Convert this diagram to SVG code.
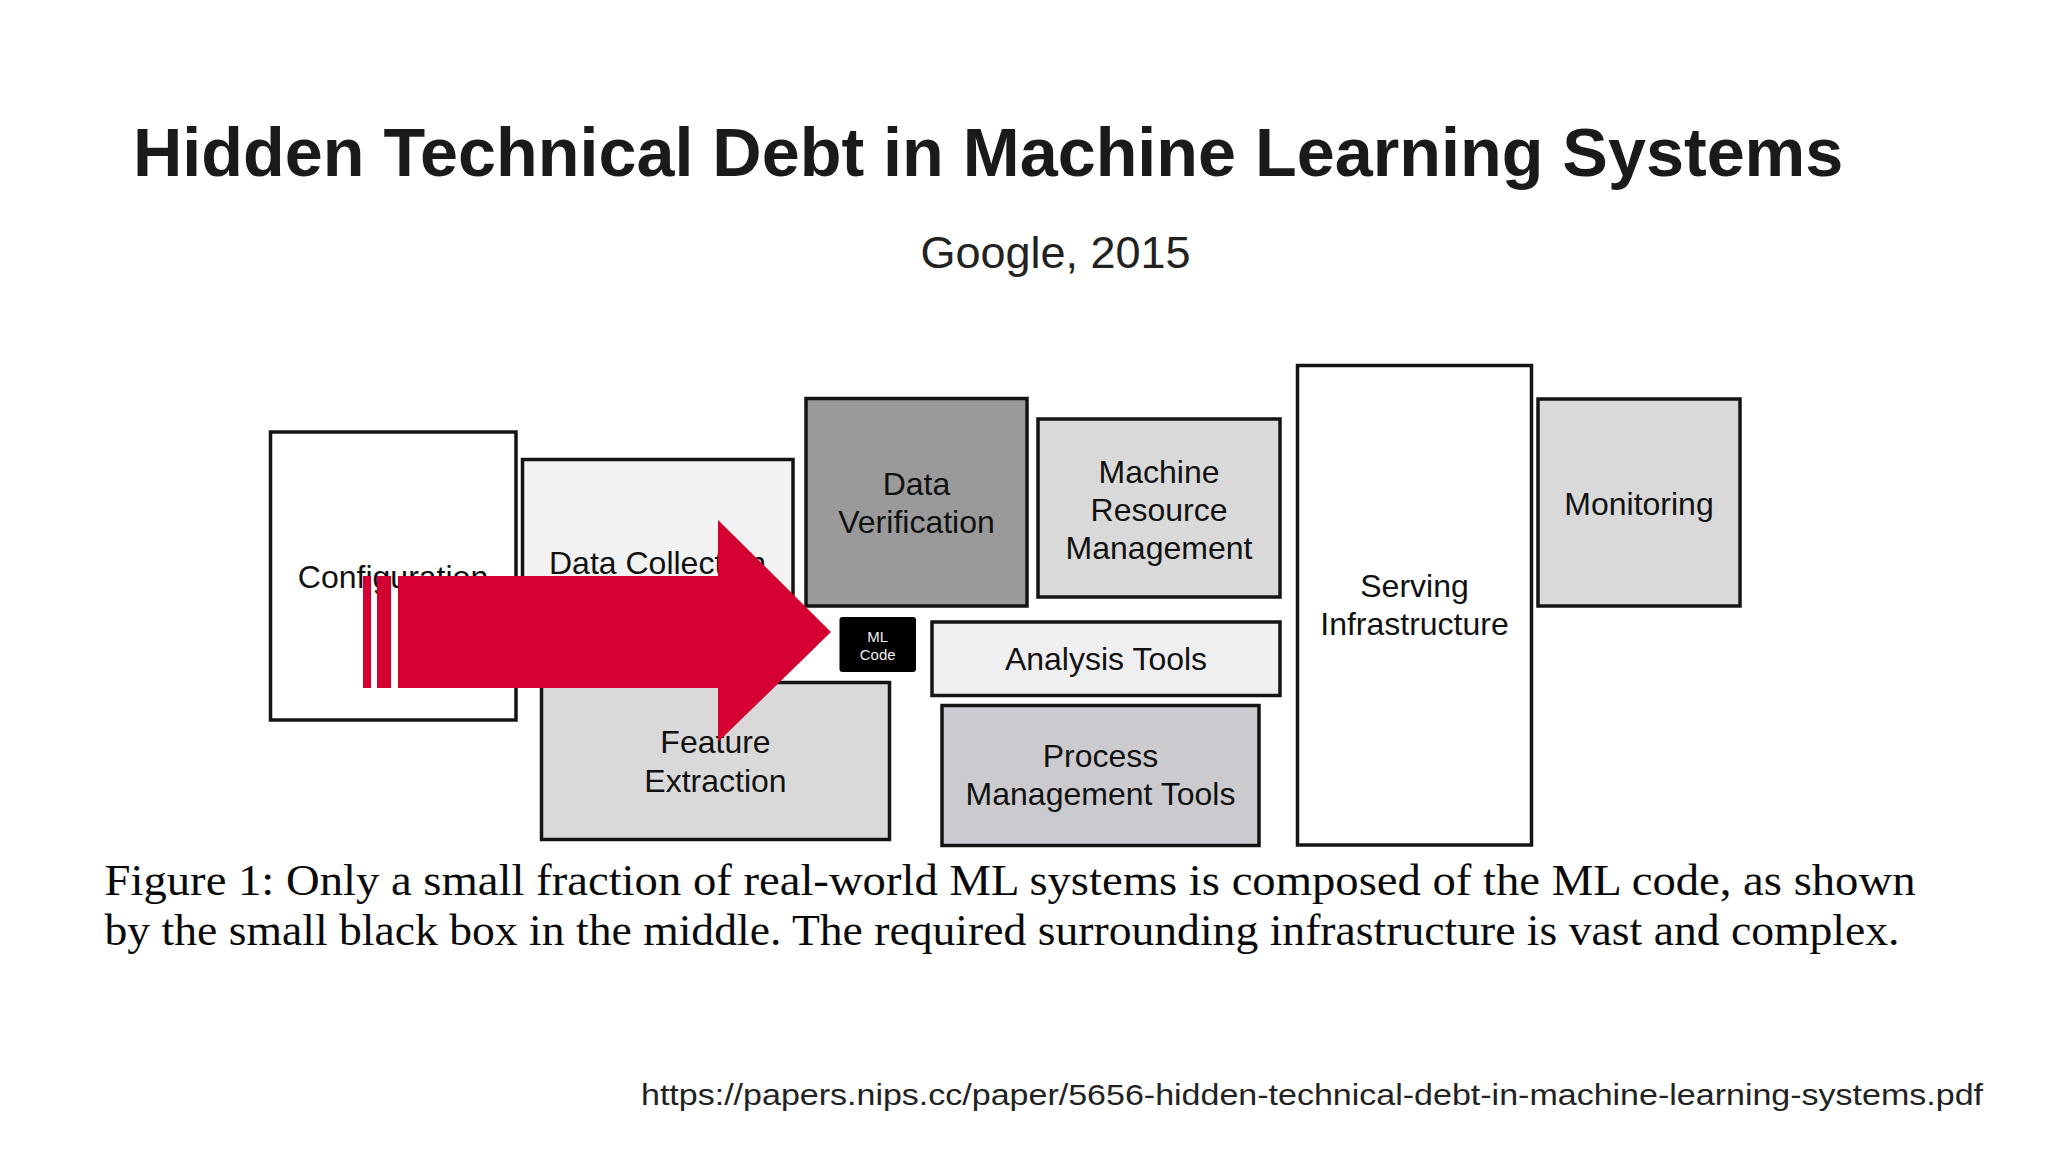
<svg xmlns="http://www.w3.org/2000/svg" width="2048" height="1152" viewBox="0 0 2048 1152">
<style>
.box{stroke:#141414;stroke-width:3.5}
.lbl{font-family:"Liberation Sans",Arial,sans-serif;font-size:32px;fill:#111;text-anchor:middle}
.ml{font-family:"Liberation Sans",Arial,sans-serif;font-size:15px;fill:#eee;text-anchor:middle}
</style>
<rect width="2048" height="1152" fill="#ffffff"/>
<text x="133" y="176" font-family="Liberation Sans,Arial,sans-serif" font-weight="bold" font-size="68.3" fill="#1a1a1a">Hidden Technical Debt in Machine Learning Systems</text>
<text x="1055.5" y="268" font-family="Liberation Sans,Arial,sans-serif" font-size="45" fill="#222" text-anchor="middle">Google, 2015</text>

<g id="configuration">
<rect class="box" x="270.5" y="432" width="245.5" height="288" fill="#ffffff"/>
<text class="lbl" x="393" y="588">Configuration</text>
</g>
<g id="data-collection">
<rect class="box" x="522.5" y="459.5" width="270.5" height="200.5" fill="#f2f2f2"/>
<text class="lbl" x="657.5" y="574">Data Collection</text>
</g>
<g id="data-verification">
<rect class="box" x="806" y="398.5" width="221" height="207.5" fill="#9a9a9a"/>
<text class="lbl" x="916.5" y="495">Data</text>
<text class="lbl" x="916.5" y="533">Verification</text>
</g>
<g id="machine-resource-management">
<rect class="box" x="1038" y="419" width="242" height="178" fill="#d9d9d9"/>
<text class="lbl" x="1159" y="482.5">Machine</text>
<text class="lbl" x="1159" y="520.5">Resource</text>
<text class="lbl" x="1159" y="558.5">Management</text>
</g>
<g id="serving-infrastructure">
<rect class="box" x="1297.5" y="365.5" width="234" height="479.5" fill="#ffffff"/>
<text class="lbl" x="1414.5" y="597">Serving</text>
<text class="lbl" x="1414.5" y="635">Infrastructure</text>
</g>
<g id="monitoring">
<rect class="box" x="1538" y="399" width="202" height="207" fill="#d9d9d9"/>
<text class="lbl" x="1639" y="515">Monitoring</text>
</g>
<g id="analysis-tools">
<rect class="box" x="932" y="622" width="348" height="73.5" fill="#efeef1"/>
<text class="lbl" x="1106" y="670">Analysis Tools</text>
</g>
<g id="process-management-tools">
<rect class="box" x="942" y="705.5" width="317" height="140" fill="#cbcbcf"/>
<text class="lbl" x="1100.5" y="767">Process</text>
<text class="lbl" x="1100.5" y="805">Management Tools</text>
</g>
<g id="feature-extraction">
<rect class="box" x="541.5" y="682.5" width="348" height="157" fill="#d9d9d9"/>
<text class="lbl" x="715.5" y="753">Feature</text>
<text class="lbl" x="715.5" y="792">Extraction</text>
</g>
<g id="ml-code">
<rect x="839.5" y="617" width="76.5" height="55" rx="3" fill="#000"/>
<text class="ml" x="877.7" y="641.7">ML</text>
<text class="ml" x="877.7" y="660">Code</text>
</g>

<g id="connectors">
<rect x="363" y="576" width="8" height="112" fill="#d50032"/>
<rect x="377" y="576" width="14" height="112" fill="#d50032"/>
<polygon points="398,576 718,576 718,520 831,632 718,742 718,688 398,688" fill="#d50032"/>
</g>

<g id="caption" font-family="Liberation Serif,Times New Roman,serif" font-size="45" fill="#0a0a0a">
<text x="104.5" y="895" textLength="1811" lengthAdjust="spacingAndGlyphs">Figure 1: Only a small fraction of real-world ML systems is composed of the ML code, as shown</text>
<text x="104.5" y="945" textLength="1795" lengthAdjust="spacingAndGlyphs">by the small black box in the middle. The required surrounding infrastructure is vast and complex.</text>
</g>
<text x="641" y="1105" font-family="Liberation Sans,Arial,sans-serif" font-size="30" fill="#222" textLength="1342" lengthAdjust="spacingAndGlyphs">https://papers.nips.cc/paper/5656-hidden-technical-debt-in-machine-learning-systems.pdf</text>
</svg>
